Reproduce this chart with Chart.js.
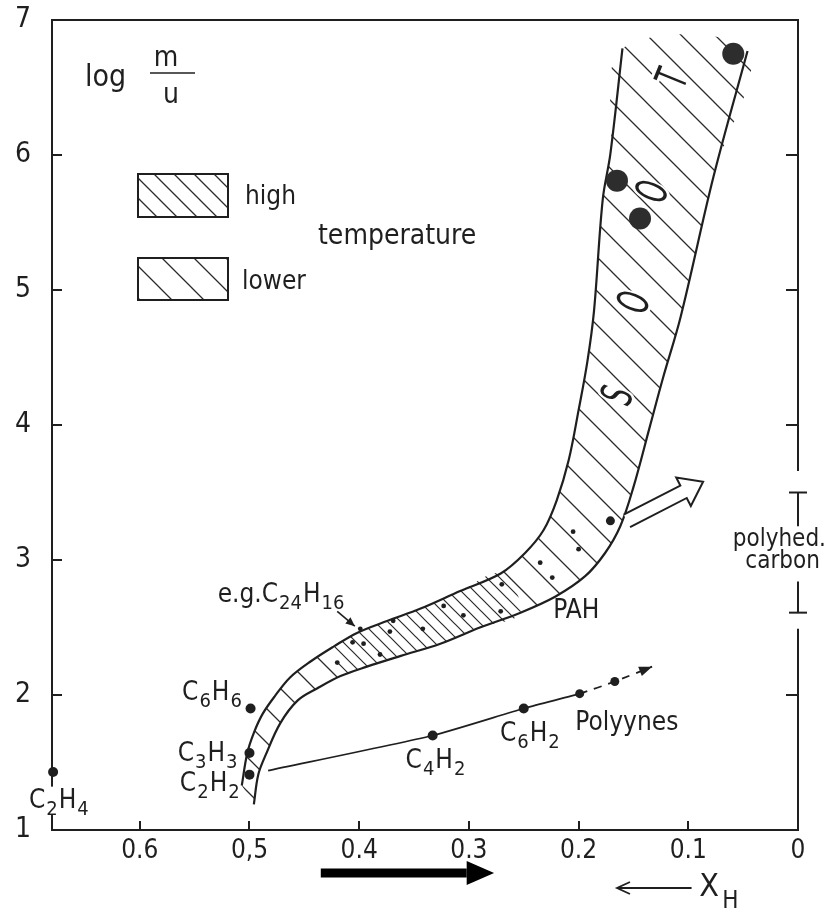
<!DOCTYPE html>
<html>
<head>
<meta charset="utf-8">
<script src="https://cdn.jsdelivr.net/npm/chart.js@4.4.1/dist/chart.umd.min.js"></script>
<style>
    html, body { margin: 0; padding: 0; background: #fff; }
    #wrap { width: 836px; height: 912px; }
</style>
</head>
<body>
<div id="wrap"><canvas id="chart-soot" width="836" height="912"></canvas></div>
<script>
const FONT = "'DejaVu Sans Condensed', 'DejaVu Sans', sans-serif";
const INK = '#1f1f1f';

// axes: X_H runs right to left, log(m/u) bottom to top
const xTicks = [0, 0.1, 0.2, 0.3, 0.4, 0.5, 0.6];
const xTickLabels = ['0', '0.1', '0.2', '0.3', '0.4', '0,5', '0.6'];
const yTicks = [1, 2, 3, 4, 5, 6, 7];

// soot / PAH band, both edges listed from the bottom (C2H2) to the top
const bandUpper = [
    [0.507, 1.33], [0.502, 1.57], [0.496, 1.72], [0.488, 1.86], [0.477, 1.99],
    [0.463, 2.13], [0.444, 2.25], [0.423, 2.36], [0.402, 2.46], [0.374, 2.55],
    [0.344, 2.64], [0.308, 2.77], [0.271, 2.90], [0.249, 3.05], [0.232, 3.22],
    [0.220, 3.44], [0.209, 3.74], [0.200, 4.11], [0.192, 4.47], [0.186, 4.84],
    [0.178, 5.67], [0.171, 6.01], [0.160, 6.79]
];
const bandLower = [
    [0.496, 1.19], [0.492, 1.41], [0.485, 1.56], [0.472, 1.79], [0.456, 1.96],
    [0.438, 2.05], [0.417, 2.14], [0.393, 2.21], [0.362, 2.29], [0.326, 2.38],
    [0.290, 2.50], [0.253, 2.61], [0.221, 2.73], [0.194, 2.88], [0.176, 3.05],
    [0.162, 3.25], [0.150, 3.54], [0.135, 3.99], [0.123, 4.35], [0.107, 4.80],
    [0.077, 5.84], [0.046, 6.77]
];
// high temperature part of the band (dense hatching)
const highUpper = [[0.423, 2.36], [0.402, 2.46], [0.374, 2.55], [0.344, 2.64], [0.308, 2.77], [0.271, 2.90]];
const highLower = [[0.417, 2.14], [0.393, 2.21], [0.362, 2.29], [0.326, 2.38], [0.290, 2.50], [0.253, 2.61]];

const sootDots = [[0.059, 6.75], [0.165, 5.81], [0.144, 5.53]];
const pahDots = [
    [0.399, 2.49], [0.406, 2.39], [0.396, 2.38], [0.420, 2.24], [0.381, 2.30],
    [0.369, 2.55], [0.372, 2.47], [0.342, 2.49], [0.323, 2.66], [0.305, 2.59],
    [0.271, 2.62], [0.270, 2.82], [0.235, 2.98], [0.224, 2.87], [0.205, 3.21],
    [0.200, 3.08], [0.171, 3.29]
];

const molecules = ['C_2H_4', 'C_2H_2', 'C_3H_3', 'C_6H_6', 'C_4H_2', 'C_6H_2'];
const molX = [0.679, 0.500, 0.500, 0.499, 0.333, 0.250];
const molY = [1.43, 1.41, 1.57, 1.90, 1.70, 1.90];

const polyyneX = [0.483, 0.333, 0.250, 0.199, 0.167, 0.133];
const polyyneY = [1.44, 1.70, 1.90, 2.01, 2.10, 2.21];
const polyyneDots = [[0.199, 2.01], [0.167, 2.10]];

const polyhedRange = [2.61, 3.50];

const canvasEl = document.getElementById('chart-soot');
const mainCtx = canvasEl.getContext('2d');

function makeHatch(size, width) {
    const c = document.createElement('canvas');
    c.width = size;
    c.height = size;
    const g = c.getContext('2d');
    g.fillStyle = '#fff';
    g.fillRect(0, 0, size, size);
    g.strokeStyle = '#2a2a2a';
    g.lineWidth = width;
    g.beginPath();
    g.moveTo(-2, -2); g.lineTo(size + 2, size + 2);
    g.moveTo(size - 3, -3); g.lineTo(size + 3, 3);
    g.moveTo(-3, size - 3); g.lineTo(3, size + 3);
    g.stroke();
    return mainCtx.createPattern(c, 'repeat');
}
const hatchLow = makeHatch(34, 1.3);
const hatchHigh = makeHatch(13, 1.2);
const hatchLegendHigh = makeHatch(20, 1.3);
const hatchLegendLow = makeHatch(32, 1.3);

const pairs = arr => arr.map(([x, y]) => ({x, y}));
const zip = (xs, ys) => xs.map((x, i) => ({x, y: ys[i]}));

function drawFormula(ctx, text, x0, y0, size, align) {
    const parts = text.split(/(_\d+)/).filter(s => s);
    const big = size + 'px ' + FONT;
    const small = Math.round(size * 0.78) + 'px ' + FONT;
    let w = 0;
    parts.forEach(p => {
        ctx.font = p[0] === '_' ? small : big;
        w += ctx.measureText(p[0] === '_' ? p.slice(1) : p).width + (p[0] === '_' ? 2 : 0);
    });
    let x = align === 'right' ? x0 - w : align === 'center' ? x0 - w / 2 : x0;
    ctx.textAlign = 'left';
    ctx.textBaseline = 'middle';
    parts.forEach(p => {
        const sub = p[0] === '_';
        const t = sub ? p.slice(1) : p;
        ctx.font = sub ? small : big;
        ctx.fillText(t, x + (sub ? 1 : 0), sub ? y0 + size * 0.32 : y0);
        x += ctx.measureText(t).width + (sub ? 2 : 0);
    });
    return w;
}

function filledHead(ctx, x1, y1, x2, y2, len, half) {
    const a = Math.atan2(y2 - y1, x2 - x1);
    ctx.beginPath();
    ctx.moveTo(x2, y2);
    ctx.lineTo(x2 - len * Math.cos(a) + half * Math.sin(a), y2 - len * Math.sin(a) - half * Math.cos(a));
    ctx.lineTo(x2 - len * Math.cos(a) - half * Math.sin(a), y2 - len * Math.sin(a) + half * Math.cos(a));
    ctx.closePath();
    ctx.fill();
}

const labelTexts = [
    {t: 'C_6H_6', x: 0.506, y: 2.01, align: 'right'},
    {t: 'C_3H_3', x: 0.510, y: 1.56, align: 'right'},
    {t: 'C_2H_2', x: 0.508, y: 1.34, align: 'right'},
    {t: 'C_4H_2', x: 0.330, y: 1.51, align: 'center'},
    {t: 'C_6H_2', x: 0.244, y: 1.71, align: 'center'},
    {t: 'Polyynes', x: 0.203, y: 1.79, align: 'left'},
    {t: 'PAH', x: 0.223, y: 2.62, align: 'left'},
    {t: 'e.g.C_24H_16', x: 0.529, y: 2.74, align: 'left'},
    {t: 'polyhed.', x: 0.017, y: 3.15, align: 'center', size: 24},
    {t: 'carbon', x: 0.014, y: 2.99, align: 'center', size: 24}
];
const sootLetters = [['S', 0.162, 4.21], ['O', 0.147, 4.90], ['O', 0.130, 5.72], ['T', 0.112, 6.56]];

const sootAnnotations = {
    id: 'sootAnnotations',
    afterDatasetsDraw(chart) {
        const ctx = chart.ctx;
        const sx = chart.scales.x, sy = chart.scales.y;
        const px = v => sx.getPixelForValue(v);
        const py = v => sy.getPixelForValue(v);
        const area = chart.chartArea;
        ctx.save();
        ctx.fillStyle = INK;
        ctx.strokeStyle = INK;

        // C2H4 sits on the left axis, the axis is broken behind the label
        ctx.font = '26px ' + FONT;
        const cx = px(0.701), cy = py(1.21);
        ctx.fillStyle = '#fff';
        ctx.fillRect(cx - 3, cy - 15, 68, 28);
        ctx.fillStyle = INK;
        drawFormula(ctx, 'C_2H_4', cx, cy, 26, 'left');

        labelTexts.forEach(l => drawFormula(ctx, l.t, px(l.x), py(l.y), l.size || 26, l.align));

        // S O O T written along the band
        sootLetters.forEach(([ch, x, y]) => {
            ctx.save();
            ctx.translate(px(x), py(y));
            ctx.rotate(-68 * Math.PI / 180);
            ctx.scale(0.62, 1);
            ctx.font = '44px ' + FONT;
            ctx.textAlign = 'center';
            ctx.textBaseline = 'middle';
            ctx.lineWidth = 6;
            ctx.strokeStyle = '#fff';
            ctx.strokeText(ch, 0, 0);
            ctx.fillStyle = INK;
            ctx.fillText(ch, 0, 0);
            ctx.restore();
        });

        // pointer to C24H16
        ctx.lineWidth = 1.6;
        ctx.beginPath();
        ctx.moveTo(px(0.420), py(2.62));
        ctx.lineTo(px(0.404), py(2.51));
        ctx.stroke();
        filledHead(ctx, px(0.420), py(2.62), px(0.404), py(2.51), 9, 4);

        // arrow head at the end of the polyyne line
        const n = polyyneX.length;
        filledHead(ctx, px(polyyneX[n - 2]), py(polyyneY[n - 2]), px(polyyneX[n - 1]), py(polyyneY[n - 1]), 13, 5);

        // hollow arrow towards polyhedral carbon
        const bx = px(0.156), by = py(3.29), tx = px(0.0865), ty = py(3.58);
        const ang = Math.atan2(ty - by, tx - bx), L = Math.hypot(tx - bx, ty - by);
        ctx.save();
        ctx.translate(bx, by);
        ctx.rotate(ang);
        ctx.beginPath();
        ctx.moveTo(0, -7); ctx.lineTo(L - 22, -7); ctx.lineTo(L - 22, -16); ctx.lineTo(L, 0);
        ctx.lineTo(L - 22, 16); ctx.lineTo(L - 22, 7); ctx.lineTo(0, 7);
        ctx.fillStyle = '#fff';
        ctx.fill();
        ctx.lineWidth = 2;
        ctx.stroke();
        ctx.restore();

        // log m/u
        const ox = area.left, oy = area.top;
        ctx.textBaseline = 'alphabetic';
        ctx.textAlign = 'left';
        ctx.font = '30px ' + FONT;
        ctx.fillText('log', ox + 33, oy + 66);
        ctx.textAlign = 'center';
        ctx.font = '28px ' + FONT;
        ctx.fillText('m', ox + 114, oy + 46);
        ctx.fillText('u', ox + 119, oy + 83);
        ctx.lineWidth = 1.6;
        ctx.beginPath();
        ctx.moveTo(ox + 98, oy + 53);
        ctx.lineTo(ox + 143, oy + 53);
        ctx.stroke();

        // legend boxes
        ctx.lineWidth = 2;
        ctx.fillStyle = hatchLegendHigh;
        ctx.fillRect(ox + 86, oy + 154, 90, 43);
        ctx.strokeRect(ox + 86, oy + 154, 90, 43);
        ctx.fillStyle = hatchLegendLow;
        ctx.fillRect(ox + 86, oy + 238, 90, 42);
        ctx.strokeRect(ox + 86, oy + 238, 90, 42);
        ctx.fillStyle = INK;
        ctx.textAlign = 'left';
        ctx.font = '26px ' + FONT;
        ctx.fillText('high', ox + 193, oy + 184);
        ctx.fillText('lower', ox + 190, oy + 269);
        ctx.font = '28px ' + FONT;
        ctx.fillText('temperature', ox + 266, oy + 224);

        // direction of falling hydrogen content, below the axis
        const by2 = area.bottom + 43;
        ctx.fillStyle = '#000';
        ctx.fillRect(px(0.435), by2 - 4.5, px(0.302) - px(0.435), 9);
        ctx.beginPath();
        ctx.moveTo(px(0.302), by2 - 12);
        ctx.lineTo(px(0.277), by2);
        ctx.lineTo(px(0.302), by2 + 12);
        ctx.closePath();
        ctx.fill();

        const xy = area.bottom + 58;
        ctx.strokeStyle = INK;
        ctx.lineWidth = 1.8;
        ctx.beginPath();
        ctx.moveTo(px(0.097), xy);
        ctx.lineTo(px(0.165), xy);
        ctx.moveTo(px(0.165) + 13, xy - 6);
        ctx.lineTo(px(0.165), xy);
        ctx.lineTo(px(0.165) + 13, xy + 6);
        ctx.stroke();
        ctx.fillStyle = INK;
        ctx.textBaseline = 'middle';
        ctx.font = '32px ' + FONT;
        ctx.fillText('X', px(0.090), xy);
        ctx.font = '24px ' + FONT;
        ctx.fillText('H', px(0.069), xy + 14);

        ctx.restore();
    }
};

const lineBase = {xAxisID: 'x', yAxisID: 'y', pointRadius: 0, fill: false, tension: 0.35};
const noPad = s => { s.paddingTop = 0; s.paddingBottom = 0; };

new Chart(canvasEl, {
    type: 'line',
    data: {
        datasets: [
            {
                ...lineBase, order: 20,
                data: pairs(bandUpper.concat(bandLower.slice().reverse())),
                fill: 'shape', backgroundColor: hatchLow, borderWidth: 0
            },
            {
                ...lineBase, order: 19,
                data: pairs(highUpper.concat(highLower.slice().reverse())),
                fill: 'shape', backgroundColor: hatchHigh, borderWidth: 0
            },
            {...lineBase, order: 10, data: pairs(bandUpper), borderColor: INK, borderWidth: 2.2},
            {...lineBase, order: 10, data: pairs(bandLower), borderColor: INK, borderWidth: 2.2},
            {
                ...lineBase, order: 8, tension: 0.2,
                data: zip(polyyneX, polyyneY), borderColor: INK, borderWidth: 1.8,
                segment: {borderDash: c => c.p0.parsed.x < 0.21 ? [8, 7] : undefined}
            },
            {
                ...lineBase, order: 8, tension: 0, clip: false,
                data: [{x: 0, y: 7}, {x: 0, y: 3.66}, {x: 0, y: null}, {x: 0, y: 2.49}, {x: 0, y: 1}],
                borderColor: INK, borderWidth: 2
            },
            {
                ...lineBase, order: 8, tension: 0, clip: false,
                data: [{x: 0, y: polyhedRange[1]}, {x: 0, y: 3.25}, {x: 0, y: null}, {x: 0, y: 2.84}, {x: 0, y: polyhedRange[0]}],
                borderColor: INK, borderWidth: 2,
                pointStyle: 'line', pointRadius: [9, 0, 0, 0, 9], pointBorderColor: INK, pointBorderWidth: 2
            },
            {
                ...lineBase, order: 2, showLine: false, clip: false,
                data: pairs(sootDots), pointRadius: 11,
                pointBackgroundColor: '#2d2d2d', pointBorderWidth: 0
            },
            {
                ...lineBase, order: 2, showLine: false, clip: false,
                data: zip(molX, molY), pointRadius: 5,
                pointBackgroundColor: INK, pointBorderWidth: 0
            },
            {
                ...lineBase, order: 2, showLine: false,
                data: pairs(polyyneDots), pointRadius: 4.5,
                pointBackgroundColor: INK, pointBorderWidth: 0
            },
            {
                ...lineBase, order: 2, showLine: false,
                data: pairs(pahDots),
                pointRadius: c => c.dataIndex === pahDots.length - 1 ? 4.5 : 2.4,
                pointBackgroundColor: INK, pointBorderWidth: 0
            }
        ]
    },
    plugins: [sootAnnotations],
    options: {
        responsive: false,
        animation: false,
        devicePixelRatio: 1,
        events: [],
        layout: {padding: {top: 20, left: 0, right: 0, bottom: 0}},
        plugins: {legend: {display: false}, tooltip: {enabled: false}},
        scales: {
            x: {
                type: 'linear', position: 'bottom', reverse: true, min: 0, max: 0.68,
                afterBuildTicks: s => { s.ticks = xTicks.map(v => ({value: v})); },
                afterFit: s => { s.height = 82; },
                ticks: {
                    color: INK, padding: 15, maxRotation: 0, autoSkip: false,
                    font: {family: FONT, size: 26},
                    callback: v => xTickLabels[xTicks.indexOf(v)]
                },
                grid: {drawOnChartArea: false, tickLength: -9, color: INK, lineWidth: 2},
                border: {color: INK, width: 2}
            },
            xTop: {
                type: 'linear', position: 'top', reverse: true, min: 0, max: 0.68,
                afterFit: s => { s.height = 0; s.paddingLeft = 0; s.paddingRight = 0; },
                ticks: {display: false},
                grid: {display: false},
                border: {color: INK, width: 2}
            },
            y: {
                type: 'linear', position: 'left', min: 1, max: 7,
                afterBuildTicks: s => { s.ticks = yTicks.map(v => ({value: v})); },
                afterFit: s => { s.width = 52; noPad(s); },
                ticks: {color: INK, padding: 31, font: {family: FONT, size: 28}},
                grid: {drawOnChartArea: false, tickLength: -10, color: INK, lineWidth: 2},
                border: {color: INK, width: 2}
            },
            y2: {
                type: 'linear', position: 'right', min: 1, max: 7,
                afterBuildTicks: s => { s.ticks = yTicks.map(v => ({value: v})); },
                afterFit: s => { s.width = 38; noPad(s); },
                ticks: {display: false},
                grid: {
                    drawOnChartArea: false, tickLength: -12, lineWidth: 2,
                    color: c => (c.tick && c.tick.value > polyhedRange[0] && c.tick.value < polyhedRange[1]) ? 'rgba(0,0,0,0)' : INK
                },
                border: {display: false}
            }
        }
    }
});
</script>
</body>
</html>
